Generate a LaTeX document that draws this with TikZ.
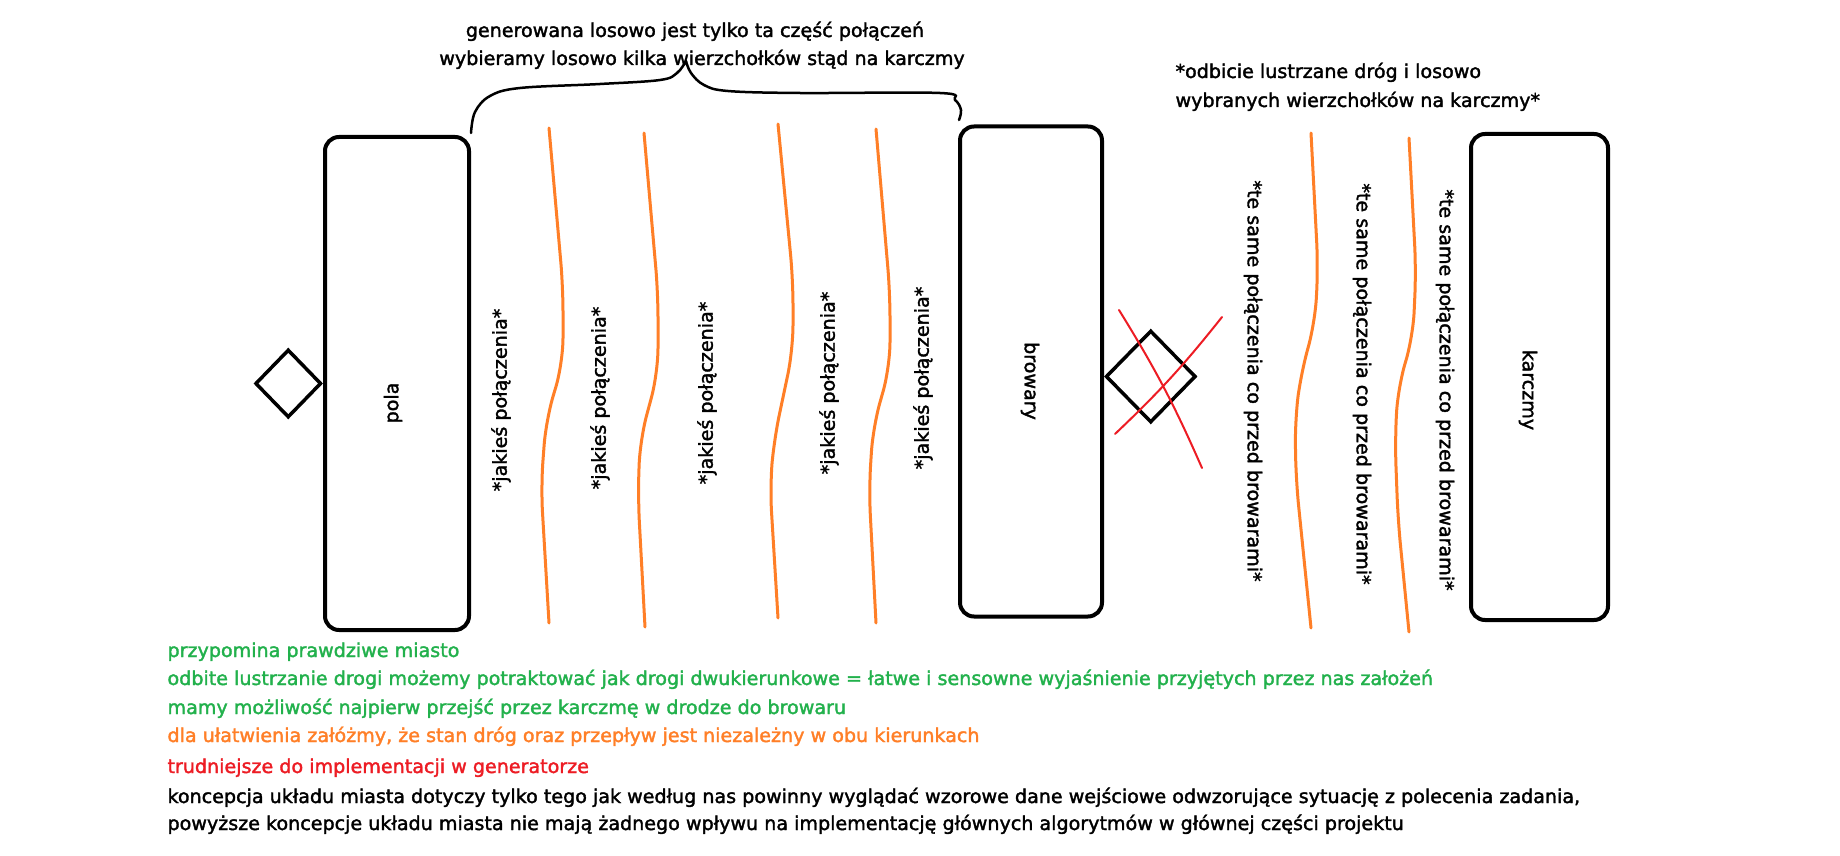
\documentclass[tikz,border=0pt]{standalone}
\usepackage{fontspec}
\setmainfont{DejaVu Sans}[FakeBold=1.8]
\usetikzlibrary{shapes.geometric}

\definecolor{paintgreen}{RGB}{34,177,76}
\definecolor{paintorange}{RGB}{255,127,39}
\definecolor{paintred}{RGB}{237,28,36}

\tikzset{
	block/.style={draw, line width=4pt, rounded corners=14pt, inner sep=0pt},
	gate/.style={draw, diamond, line width=3.5pt, inner sep=0pt},
	road/.style={paintorange, line width=3pt, line cap=round, rounded corners=25pt},
	cross/.style={paintred, line width=2pt, line cap=round},
}

\begin{document}
\begin{tikzpicture}[x=1pt, y=-1pt, every node/.style={font=\fontsize{19.1}{22}\selectfont}]
	\path[use as bounding box, fill=white] (0,0) rectangle (1840,856);

	% boxes and gates
	\node[block, minimum width=144pt, minimum height=493pt] (pola) at (397,383.5) {};
	\node[block, minimum width=142pt, minimum height=490pt] (browary) at (1031,371.5) {};
	\node[block, minimum width=137pt, minimum height=486pt] (karczmy) at (1539.5,377) {};
	\node[gate, minimum width=66pt, minimum height=68pt, anchor=east] (gateA) at (pola.west) {};
	\node[gate, minimum width=90pt, minimum height=92pt, anchor=west] (gateB) at ([yshift=-5pt]browary.east) {};
	\draw[cross] (1119,310) to[bend left=4] (1202,468);
	\draw[cross] (1115,434) to[bend right=4] (1222,317);

	\node[rotate=90] (polaText) at (393,403) {pola};
	\node[rotate=-90] (browaryText) at (1030,381) {browary};
	\node[rotate=-90] (karczmyText) at (1528,390) {karczmy};

	% roads
	\draw[road] (549,128) -- (563,287) -- (563,363) -- (546,420) -- (541,487) -- (549,623);
	\draw[road] (644,133) -- (658,293) -- (658,373) -- (640,440) -- (638,497) -- (645,627);
	\draw[road] (778,124) -- (793,280) -- (793,350) -- (774,440) -- (770,487) -- (778,618);
	\draw[road] (876,129) -- (890,293) -- (890,367) -- (873,427) -- (869,490) -- (876,623);
	\draw[road] (1311,133) -- (1318,267) -- (1315,323) -- (1301,373) -- (1295,420) -- (1296,480) -- (1311,628);
	\draw[road] (1409,138) -- (1416,270) -- (1413,337) -- (1398,387) -- (1395,440) -- (1398,520) -- (1409,632);

	\node[rotate=90] (link1) at (501,400) {*jakieś połączenia*};
	\node[rotate=90] (link2) at (600,398) {*jakieś połączenia*};
	\node[rotate=90] (link3) at (707,393) {*jakieś połączenia*};
	\node[rotate=90] (link4) at (829,383) {*jakieś połączenia*};
	\node[rotate=90] (link5) at (923,378) {*jakieś połączenia*};
	\node[rotate=-90] (same1) at (1253,381) {*te same połączenia co przed browarami*};
	\node[rotate=-90] (same2) at (1362,384) {*te same połączenia co przed browarami*};
	\node[rotate=-90] (same3) at (1445,390) {*te same połączenia co przed browarami*};

	% brace over the random part
	\draw[line width=2.5pt, line cap=round] plot[smooth, tension=0.6] coordinates {(471,133) (475,112) (490,96) (520,88) (600,84) (660,80) (677,73) (686,61)};
	\draw[line width=2.5pt, line cap=round] plot[smooth, tension=0.6] coordinates {(686,61) (691,73) (704,85) (728,91) (800,93) (940,93) (955,100) (961,110) (959,120)};

	\node[anchor=base] (title1) at (695,37) {generowana losowo jest tylko ta część połączeń};
	\node[anchor=base] (title2) at (702,65) {wybieramy losowo kilka wierzchołków stąd na karczmy};
	\node[anchor=base west] (mirror1) at (1172,78) {*odbicie lustrzane dróg i losowo};
	\node[anchor=base west] (mirror2) at (1172,107) {wybranych wierzchołków na karczmy*};

	% notes
	\node[paintgreen, anchor=base west] (note1) at (164,657) {przypomina prawdziwe miasto};
	\node[paintgreen, anchor=base west] (note2) at (164,685) {odbite lustrzanie drogi możemy potraktować jak drogi dwukierunkowe = łatwe i sensowne wyjaśnienie przyjętych przez nas założeń};
	\node[paintgreen, anchor=base west] (note3) at (164,714) {mamy możliwość najpierw przejść przez karczmę w drodze do browaru};
	\node[paintorange, anchor=base west] (note4) at (164,742) {dla ułatwienia załóżmy, że stan dróg oraz przepływ jest niezależny w obu kierunkach};
	\node[paintred, anchor=base west] (note5) at (164,773) {trudniejsze do implementacji w generatorze};
	\node[anchor=base west] (note6) at (164,803) {koncepcja układu miasta dotyczy tylko tego jak według nas powinny wyglądać wzorowe dane wejściowe odwzorujące sytuację z polecenia zadania,};
	\node[anchor=base west] (note7) at (164,830) {powyższe koncepcje układu miasta nie mają żadnego wpływu na implementację głównych algorytmów w głównej części projektu};
\end{tikzpicture}
\end{document}
